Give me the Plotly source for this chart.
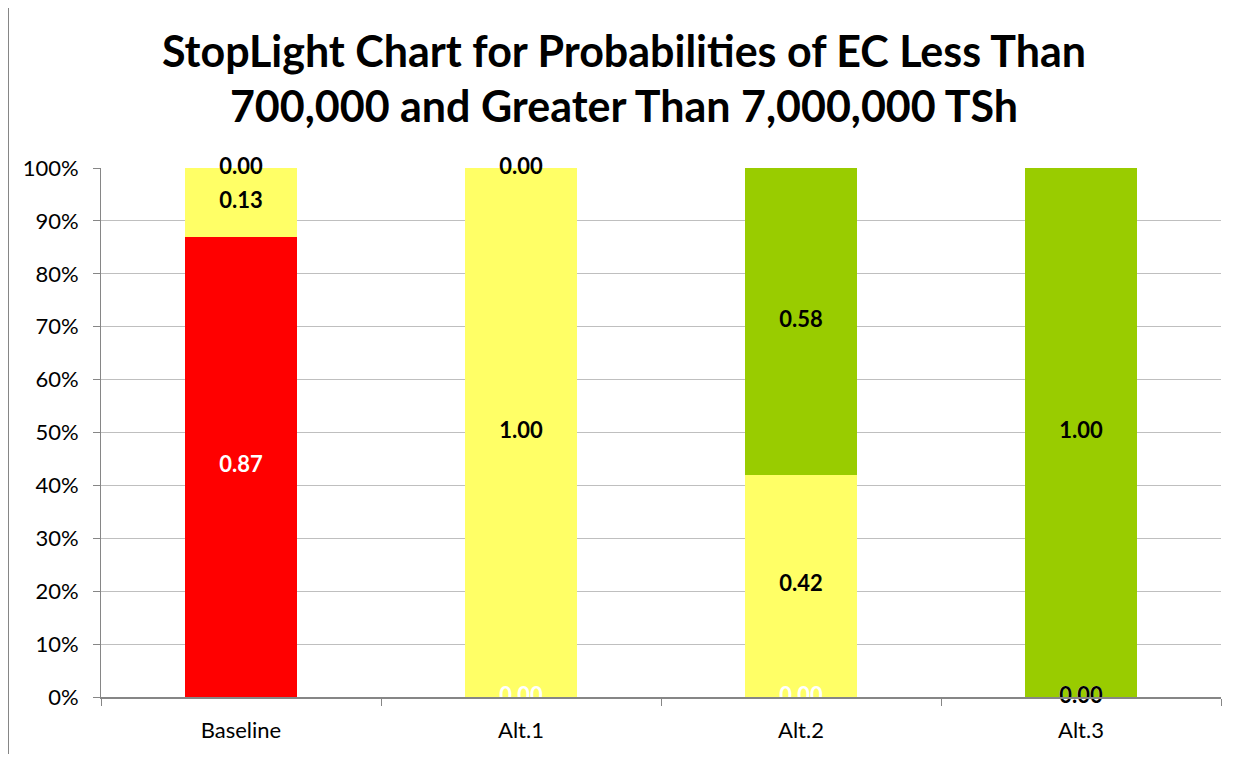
import plotly.graph_objects as go

categories = ["Baseline", "Alt.1", "Alt.2", "Alt.3"]
p_low = [0.87, 0.00, 0.00, 0.00]     # EC < 700,000 (red)
p_mid = [0.13, 1.00, 0.42, 0.00]     # between (yellow)
p_high = [0.00, 0.00, 0.58, 1.00]    # EC > 7,000,000 (green)
y_ticks = [0, 0.1, 0.2, 0.3, 0.4, 0.5, 0.6, 0.7, 0.8, 0.9, 1.0]
y_tick_labels = ["0%", "10%", "20%", "30%", "40%", "50%", "60%", "70%", "80%", "90%", "100%"]

title_text = "<b>StopLight Chart for Probabilities of EC Less Than<br>700,000 and Greater Than 7,000,000 TSh</b>"

series = [
    ("< 700,000", p_low, "#FF0000", "white"),
    ("700,000 - 7,000,000", p_mid, "#FFFF66", "black"),
    ("> 7,000,000", p_high, "#99CC00", "black"),
]

FONT = "Lato, Carlito, Liberation Sans, sans-serif"
W, H = 1232, 746
L, R, T, B = 93, 19, 160, 57
pw, ph = W - L - R, H - T - B

fig = go.Figure()
base = [0.0] * len(categories)
label_pts = []
for name, vals, color, tcol in series:
    fig.add_trace(go.Bar(
        x=categories, y=vals, name=name, marker=dict(color=color, line=dict(width=0)),
        width=0.4, hoverinfo="skip",
    ))
    mids = [b + v / 2 for b, v in zip(base, vals)]
    label_pts.append((mids, vals, tcol))
    base = [b + v for b, v in zip(base, vals)]

for mids, vals, tcol in label_pts:
    fig.add_trace(go.Scatter(
        x=categories, y=mids, mode="text",
        text=[f"{v:.2f}" for v in vals],
        textfont=dict(family=FONT, size=22, color=tcol, weight="bold"),
        textposition="middle center", showlegend=False, hoverinfo="skip", cliponaxis=False,
    ))

fig.update_layout(
    barmode="stack",
    width=W, height=H,
    paper_bgcolor="white", plot_bgcolor="white",
    showlegend=False,
    margin=dict(l=L, r=R, t=T, b=B),
    title=dict(text=title_text, x=0.5, xanchor="center", y=1 - 58.5 / H, yanchor="middle",
               font=dict(family=FONT, size=43, color="black")),
    font=dict(family=FONT, size=22, color="black"),
)
fig.update_xaxes(
    type="category", tickson="boundaries", ticks="outside", ticklen=7, tickcolor="#868686",
    showline=True, linecolor="#868686", linewidth=1.5, showgrid=False,
    ticklabelstandoff=13,
    tickfont=dict(family=FONT, size=22, color="black"),
)
fig.update_yaxes(
    range=[0, 1], tickvals=y_ticks, ticktext=y_tick_labels,
    ticks="outside", ticklen=7, tickcolor="#868686",
    showline=True, linecolor="#868686", linewidth=1,
    showgrid=True, gridcolor="#BFBFBF", gridwidth=1, zeroline=False,
    ticklabelstandoff=10,
    tickfont=dict(family=FONT, size=22, color="black"),
)
fig.add_shape(type="line", xref="paper", yref="paper",
              x0=-(L - 0.5) / pw, x1=-(L - 0.5) / pw, y0=-B / ph, y1=1 + T / ph,
              line=dict(color="#868686", width=1))
fig.write_html("out.html")
